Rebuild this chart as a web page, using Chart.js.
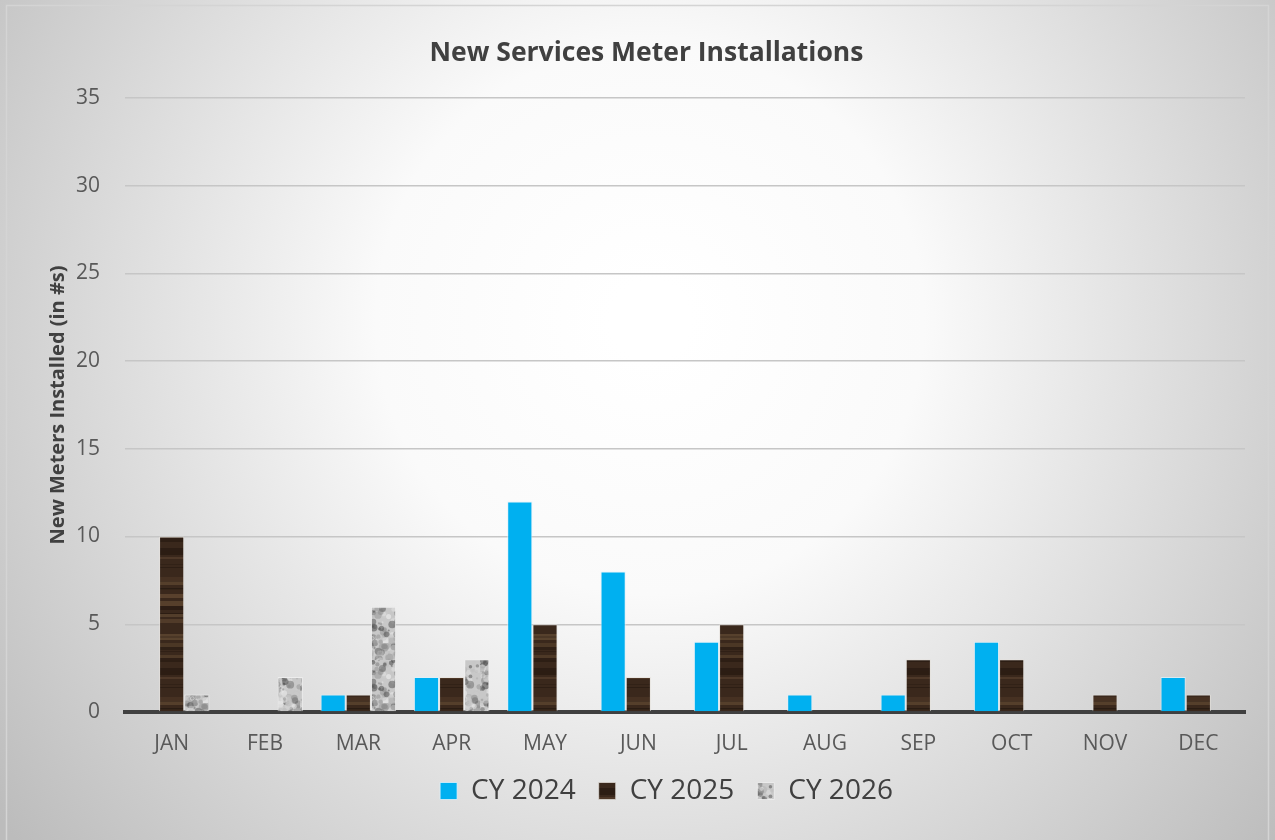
<!DOCTYPE html>
<html>
<head>
<meta charset="utf-8">
<script src="https://cdn.jsdelivr.net/npm/chart.js@4.4.1/dist/chart.umd.min.js"></script>
<style>
  html, body { margin: 0; padding: 0; background: #fff; }
  #wrap { width: 1275px; height: 840px; }
</style>
</head>
<body>
<div id="wrap"><canvas id="meterChart" width="1275" height="840"></canvas></div>
<script>
const months = ['JAN', 'FEB', 'MAR', 'APR', 'MAY', 'JUN', 'JUL', 'AUG', 'SEP', 'OCT', 'NOV', 'DEC'];
const cy2024 = [0, 0, 1, 2, 12, 8, 4, 1, 1, 4, 0, 2];
const cy2025 = [10, 0, 1, 2, 5, 2, 5, 0, 3, 3, 1, 1];
const cy2026 = [1, 2, 6, 3, 0, 0, 0, 0, 0, 0, 0, 0];
const yTicks = [0, 5, 10, 15, 20, 25, 30, 35];

// small seeded generator, only used for texture grain
let seed = 7;
function rnd() {
    seed = (seed * 16807) % 2147483647;
    return (seed - 1) / 2147483646;
}

// wood-like texture for CY 2025
function woodPattern() {
    const c = document.createElement('canvas');
    c.width = 30; c.height = 120;
    const g = c.getContext('2d');
    g.fillStyle = '#3a281c';
    g.fillRect(0, 0, c.width, c.height);
    let y = 0;
    while (y < c.height) {
        const h = 1 + Math.floor(rnd() * 4);
        const r = rnd();
        if (r < 0.35) {
            g.fillStyle = 'rgba(105,80,55,' + (0.25 + rnd() * 0.45) + ')';
            g.fillRect(0, y, c.width, h);
        } else if (r < 0.55) {
            g.fillStyle = 'rgba(20,12,6,' + (0.15 + rnd() * 0.3) + ')';
            g.fillRect(0, y, c.width, h);
        }
        y += h;
    }
    return g.createPattern(c, 'repeat');
}

// granite-like texture for CY 2026
function granitePattern() {
    const c = document.createElement('canvas');
    c.width = 60; c.height = 60;
    const g = c.getContext('2d');
    g.fillStyle = '#c8c8c8';
    g.fillRect(0, 0, c.width, c.height);
    for (let i = 0; i < 240; i++) {
        const v = Math.floor(60 + rnd() * 190);
        g.fillStyle = 'rgba(' + v + ',' + v + ',' + v + ',0.5)';
        g.beginPath();
        g.arc(rnd() * 60, rnd() * 60, 1 + rnd() * 3, 0, Math.PI * 2);
        g.fill();
    }
    return g.createPattern(c, 'repeat');
}

// background: soft radial gradient plus thin frame
const backdrop = {
    id: 'backdrop',
    beforeDraw(chart) {
        const ctx = chart.ctx;
        const w = chart.width, h = chart.height;
        ctx.save();
        const grad = ctx.createRadialGradient(650, 320, 40, 650, 320, 820);
        grad.addColorStop(0, '#ffffff');
        grad.addColorStop(0.3, '#fafafa');
        grad.addColorStop(1, '#bcbcbc');
        ctx.fillStyle = grad;
        ctx.fillRect(0, 0, w, h);
        ctx.strokeStyle = '#d4d4d4';
        ctx.lineWidth = 1.5;
        ctx.strokeRect(6.5, 5.5, w - 13, h - 4);
        ctx.restore();
    }
};

// nudge title and legend sideways to sit where the original has them
const nudge = {
    id: 'nudge',
    afterLayout(chart) {
        if (chart.titleBlock) { chart.titleBlock.left += 4; chart.titleBlock.right += 4; }
        if (chart.legend) { chart.legend.left += 24; chart.legend.right += 24; }
    }
};

const ctx = document.getElementById('meterChart');
new Chart(ctx, {
    type: 'bar',
    data: {
        labels: months,
        datasets: [
            { label: 'CY 2024', data: cy2024, backgroundColor: '#00b0f0', borderColor: 'rgba(220,240,250,0.8)', borderWidth: 1 },
            { label: 'CY 2025', data: cy2025, backgroundColor: woodPattern(), borderColor: 'rgba(230,225,220,0.7)', borderWidth: 1 },
            { label: 'CY 2026', data: cy2026, backgroundColor: granitePattern(), borderColor: 'rgba(240,240,240,0.8)', borderWidth: 1 }
        ]
    },
    options: {
        responsive: false,
        animation: false,
        layout: { padding: { left: 40, right: 30, top: 20, bottom: 25 } },
        datasets: { bar: { categoryPercentage: 0.81, barPercentage: 1.0 } },
        plugins: {
            title: {
                display: true,
                text: 'New Services Meter Installations',
                color: '#404040',
                font: { family: 'Open Sans', size: 26.5, weight: 'bold' },
                padding: { top: 18, bottom: 28 }
            },
            legend: {
                position: 'bottom',
                labels: {
                    color: '#404040',
                    font: { family: 'Open Sans', size: 28 },
                    boxWidth: 17,
                    boxHeight: 17,
                    padding: 23
                }
            },
            tooltip: { enabled: false }
        },
        scales: {
            x: {
                grid: { display: false },
                border: { color: '#404040', width: 4 },
                ticks: { color: '#595959', font: { family: 'Open Sans', size: 21 }, padding: 11 },
                afterFit(axis) { axis.height = 42; }
            },
            y: {
                min: 0,
                max: 35,
                afterBuildTicks(axis) { axis.ticks = yTicks.map(v => ({ value: v })); },
                afterFit(axis) { axis.width = 85; },
                grid: { color: '#c6c6c6', lineWidth: 1.5, drawTicks: false },
                border: { display: false },
                ticks: { color: '#595959', font: { family: 'Open Sans', size: 21 }, padding: 25 },
                title: {
                    display: true,
                    text: 'New Meters Installed (in #s)',
                    color: '#404040',
                    font: { family: 'Open Sans', size: 20, weight: 'bold' },
                    padding: { top: 6, bottom: 0 }
                }
            }
        }
    },
    plugins: [backdrop, nudge]
});
</script>
</body>
</html>
